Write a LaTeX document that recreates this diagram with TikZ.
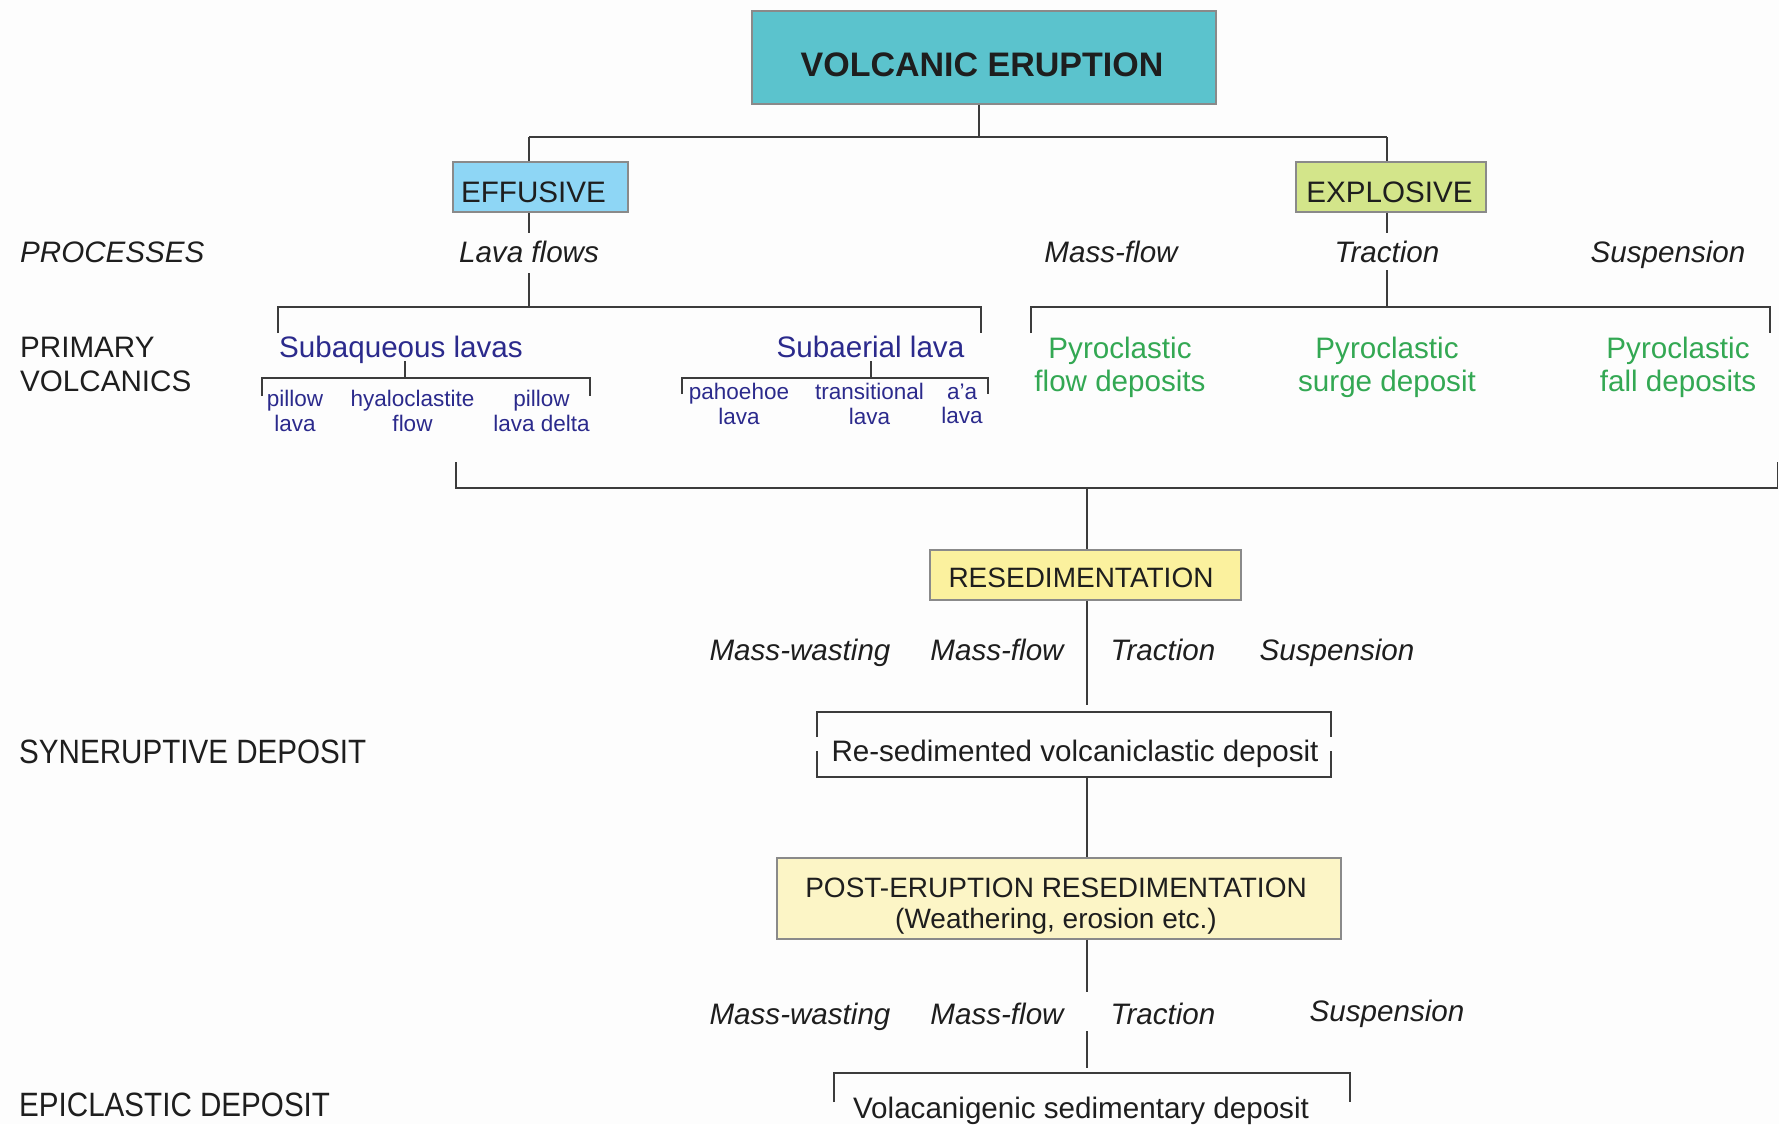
\documentclass[tikz,border=0pt]{standalone}
\usepackage{fontspec}
\usepackage{graphicx}
\setmainfont{Liberation Sans}
\definecolor{ln}{HTML}{3C3C3C}
\definecolor{bord}{HTML}{8A8A8A}
\definecolor{tx}{HTML}{1E1E1E}
\definecolor{cTeal}{HTML}{5BC3CD}
\definecolor{cEff}{HTML}{8ED6F5}
\definecolor{cExp}{HTML}{D3E58A}
\definecolor{cRes}{HTML}{FBF19E}
\definecolor{cPost}{HTML}{FCF5C6}
\definecolor{cNavy}{HTML}{2B2A8C}
\definecolor{cGreen}{HTML}{33A853}
\definecolor{cBg}{HTML}{FDFDFD}
\newcommand{\fmain}{\fontsize{29.6}{34}\selectfont}
\newcommand{\fpyro}{\fontsize{29.6}{33.5}\selectfont}
\newcommand{\fsml}{\fontsize{22.5}{24.5}\selectfont}
\newcommand{\fbxt}{\fontsize{28}{31}\selectfont}
\newcommand{\fbig}{\fontsize{34}{38}\selectfont\bfseries}
\begin{document}
\begin{tikzpicture}[x=1pt,y=-1pt,
  conn/.style={draw=ln, line width=1.8pt},
  box/.style={draw=bord, line width=1.2pt, inner sep=0pt},
  lbl/.style={font=\fmain, text=tx, inner sep=0pt, anchor=base},
  lbl2/.style={font=\fmain, text=tx, inner sep=0pt, align=left, anchor=west},
  itl/.style={font=\fmain\itshape, text=tx, inner sep=0pt, anchor=base},
  lava/.style={font=\fmain, text=cNavy, inner sep=0pt, anchor=base},
  sml/.style={font=\fsml, text=cNavy, inner sep=0pt, align=center},
  pyro/.style={font=\fpyro, text=cGreen, inner sep=0pt, align=center},
  bxt/.style={font=\fbxt, text=tx, inner sep=0pt},
]
\fill[cBg] (0,0) rectangle (1779,1124);
\useasboundingbox (0,0) rectangle (1779,1124);

% ---------- boxes ----------
\node[box, fill=cTeal, minimum width=464pt, minimum height=93pt,
  label={[font=\fbig, text=tx, inner sep=0pt, anchor=base, yshift=-7.5pt, xshift=-2pt]center:VOLCANIC ERUPTION}] (ve) at (984,57.5) {};
\node[box, fill=cEff, minimum width=175pt, minimum height=50pt,
  label={[font=\fmain, text=tx, inner sep=0pt, anchor=base, yshift=-5pt, xshift=-7pt]center:EFFUSIVE}] (eff) at (540.5,187) {};
\node[box, fill=cExp, minimum width=190pt, minimum height=50pt,
  label={[font=\fmain, text=tx, inner sep=0pt, anchor=base, yshift=-5pt, xshift=-1.5pt]center:EXPLOSIVE}] (exp) at (1391,187) {};
\node[box, fill=cRes, minimum width=311pt, minimum height=50pt,
  label={[bxt, anchor=base, yshift=-3pt, xshift=-4.5pt]center:RESEDIMENTATION}] (res) at (1085.5,575) {};
\node[box, fill=cPost, minimum width=564pt, minimum height=81pt,
  label={[bxt, align=center, anchor=center, yshift=-8pt, xshift=-3pt]center:POST-ERUPTION RESEDIMENTATION\\(Weathering, erosion etc.)}] (post) at (1059,898.5) {};

% ---------- left column ----------
\node[lbl, anchor=base west, font=\fmain\itshape] (proc) at (20,262) {PROCESSES};
\node[lbl2] (prim) at (20,364.5) {PRIMARY\\VOLCANICS};
\node[lbl, anchor=base west] (syn) at (19,763) {\scalebox{1}[1.14]{SYNERUPTIVE DEPOSIT}};
\node[lbl, anchor=base west] (epi) at (19,1116) {\scalebox{1}[1.14]{EPICLASTIC DEPOSIT}};

% ---------- row 1 processes ----------
\node[itl] (lavaf) at (529,262) {Lava flows};
\node[itl] (mf1) at (1111,262) {Mass-flow};
\node[itl] (tr1) at (1387,262) {Traction};
\node[itl] (su1) at (1668,262) {Suspension};

% ---------- primary volcanics ----------
\node[lava] (subaq) at (401,357) {Subaqueous lavas};
\node[lava] (subae) at (870.5,357) {Subaerial lava};
\node[sml] (pil) at (295,410.8) {pillow\\lava};
\node[sml] (hya) at (412.5,410.8) {hyaloclastite\\flow};
\node[sml] (pld) at (541.5,410.8) {pillow\\lava delta};
\node[sml] (pah) at (739,404) {pahoehoe\\lava};
\node[sml] (tra) at (869.5,404) {transitional\\lava};
\node[sml] (aa) at (962,404) {a'a\\lava};
\node[pyro] (pfl) at (1120,367.5) {Pyroclastic\\flow deposits};
\node[pyro] (psu) at (1387,367.5) {Pyroclastic\\surge deposit};
\node[pyro] (pfa) at (1678,367.5) {Pyroclastic\\fall deposits};

% ---------- row 2 ----------
\node[itl] (mw2) at (800,660) {Mass-wasting};
\node[itl] (mf2) at (997,660) {Mass-flow};
\node[itl] (tr2) at (1163,660) {Traction};
\node[itl] (su2) at (1337,660) {Suspension};
\node[lbl] (rsd) at (1075,761) {Re-sedimented volcaniclastic deposit};

% ---------- row 3 ----------
\node[itl] (mw3) at (800,1024) {Mass-wasting};
\node[itl] (mf3) at (997,1024) {Mass-flow};
\node[itl] (tr3) at (1163,1024) {Traction};
\node[itl] (su3) at (1387,1021.5) {Suspension};
\node[lbl] (vsd) at (1081,1118) {Volacanigenic sedimentary deposit};

% ---------- coordinates ----------
\coordinate (jt) at (979,137);
\coordinate (jtL) at (529,137);
\coordinate (jtR) at (1387,137);
\coordinate (lvT) at (529,233);
\coordinate (lvB) at (529,273);
\coordinate (effJ) at (529,307);
\coordinate (b1L) at (278,333);
\coordinate (b1R) at (981,333);
\coordinate (sqA) at (405,361);
\coordinate (sqB) at (405,378);
\coordinate (s2L) at (262,396);
\coordinate (s2R) at (590,396);
\coordinate (saA) at (871,361);
\coordinate (saB) at (871,378);
\coordinate (s3L) at (682,394);
\coordinate (s3R) at (988,394);
\coordinate (trT) at (1387,233);
\coordinate (trB) at (1387,270);
\coordinate (expJ) at (1387,307);
\coordinate (b2L) at (1031,333);
\coordinate (b2R) at (1770,333);
\coordinate (bgL) at (456,462);
\coordinate (bgR) at (1777.5,462);
\coordinate (bgJ) at (1087,488);
\coordinate (rsB) at (1087,705);
\coordinate (rtL) at (817,737);
\coordinate (rtR) at (1331,737);
\coordinate (rtJ) at (1087,712);
\coordinate (rbL) at (817,751);
\coordinate (rbR) at (1331,751);
\coordinate (rbJ) at (1087,777);
\coordinate (p3T) at (1087,992);
\coordinate (p3B) at (1087,1031);
\coordinate (e3J) at (1087,1068);
\coordinate (etL) at (834,1102);
\coordinate (etR) at (1350,1102);
\coordinate (etJ) at (1087,1073);

% ---------- connectors ----------
\draw[conn] (ve.south -| jt) -- (jt);
\draw[conn] (jtL) -- (jtR);
\draw[conn] (jtL) -- (eff.north -| jtL);
\draw[conn] (jtR) -- (exp.north -| jtR);
% effusive
\draw[conn] (eff.south -| jtL) -- (lvT);
\draw[conn] (lvB) -- (effJ);
\draw[conn] (b1L) -- (b1L |- effJ) -- (b1R |- effJ) -- (b1R);
\draw[conn] (sqA) -- (sqB);
\draw[conn] (s2L) -- (s2L |- sqB) -- (s2R |- sqB) -- (s2R);
\draw[conn] (saA) -- (saB);
\draw[conn] (s3L) -- (s3L |- saB) -- (s3R |- saB) -- (s3R);
% explosive
\draw[conn] (exp.south -| jtR) -- (trT);
\draw[conn] (trB) -- (expJ);
\draw[conn] (b2L) -- (b2L |- expJ) -- (b2R |- expJ) -- (b2R);
% big bracket
\draw[conn] (bgL) -- (bgL |- bgJ) -- (bgR |- bgJ) -- (bgR);
\draw[conn] (bgJ) -- (res.north -| bgJ);
\draw[conn] (res.south -| bgJ) -- (rsB);
% re-sedimented bracket
\draw[conn] (rtL) -- (rtL |- rtJ) -- (rtR |- rtJ) -- (rtR);
\draw[conn] (rbL) -- (rbL |- rbJ) -- (rbR |- rbJ) -- (rbR);
\draw[conn] (rbJ) -- (post.north -| rbJ);
\draw[conn] (post.south -| rbJ) -- (p3T);
\draw[conn] (p3B) -- (e3J);
\draw[conn] (etL) -- (etL |- etJ) -- (etR |- etJ) -- (etR);
\end{tikzpicture}
\end{document}
